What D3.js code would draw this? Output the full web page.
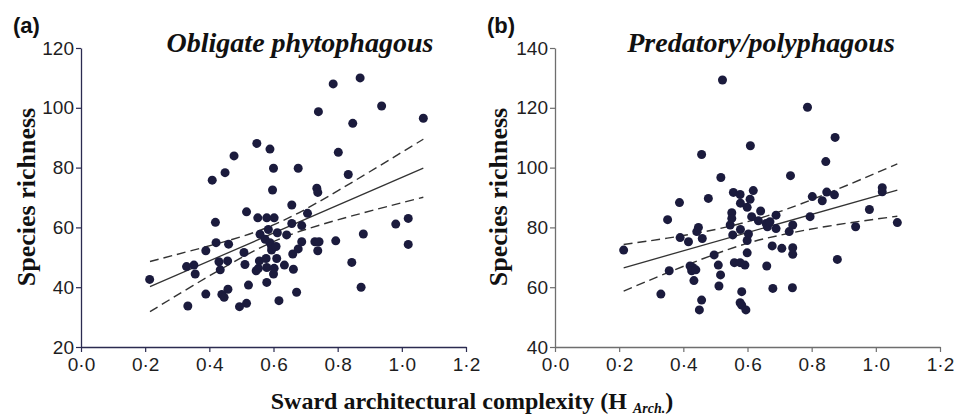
<!DOCTYPE html>
<html>
<head>
<meta charset="utf-8">
<script src="https://cdn.jsdelivr.net/npm/d3@7"></script>
<style>
  body { margin: 0; background: #fff; }
  svg { display: block; }
</style>
</head>
<body>
<div id="my_dataviz"></div>
<script>
// sward complexity vs species richness, two panels

const xTicks = [0, 0.2, 0.4, 0.6, 0.8, 1.0, 1.2];
const obligateTicks = [20, 40, 60, 80, 100, 120];
const predatoryTicks = [40, 60, 80, 100, 120, 140];

// (a) obligate phytophagous: [H_Arch, species richness]
const obligatePoints = [
  [0.214, 42.6], [0.329, 46.9], [0.352, 47.4], [0.356, 44.4], [0.333, 33.7],
  [0.389, 52.2], [0.389, 37.7], [0.409, 75.8], [0.419, 61.7], [0.421, 54.9],
  [0.430, 48.5], [0.434, 45.8], [0.439, 37.6], [0.446, 36.6], [0.449, 78.3],
  [0.457, 48.8], [0.458, 39.3], [0.460, 54.4], [0.477, 83.9], [0.494, 33.5],
  [0.508, 51.6], [0.511, 47.6], [0.516, 65.2], [0.516, 34.6], [0.522, 40.7],
  [0.546, 45.5], [0.548, 88.1], [0.551, 63.2], [0.553, 46.3], [0.556, 48.8],
  [0.558, 57.7], [0.574, 56.0], [0.577, 49.6], [0.579, 63.2], [0.579, 46.6],
  [0.579, 41.6], [0.584, 59.3], [0.589, 86.2], [0.589, 54.9], [0.594, 53.6],
  [0.594, 52.4], [0.597, 72.5], [0.600, 79.8], [0.600, 44.4], [0.602, 63.2],
  [0.602, 46.3], [0.608, 53.6], [0.610, 49.6], [0.612, 58.2], [0.617, 35.5],
  [0.634, 47.4], [0.641, 57.5], [0.657, 67.5], [0.657, 61.3], [0.660, 51.1],
  [0.662, 46.0], [0.672, 38.3], [0.677, 79.8], [0.677, 52.8], [0.688, 60.6],
  [0.688, 55.2], [0.706, 64.7], [0.729, 55.2], [0.735, 73.1], [0.738, 71.7],
  [0.738, 52.2], [0.740, 98.7], [0.742, 55.2], [0.786, 108.0], [0.794, 55.5],
  [0.802, 85.1], [0.833, 77.7], [0.844, 48.3], [0.847, 94.8], [0.870, 110.0],
  [0.873, 40.0], [0.880, 57.8], [0.937, 100.6], [0.981, 61.1], [1.020, 63.0],
  [1.020, 54.3], [1.067, 96.5]
];
const obligateFit = [[0.215, 40.2], [1.067, 79.8]];
const obligateBandX = [0.215, 0.35, 0.5, 0.607, 0.7, 0.85, 1.067];
const obligateUpper = [48.6, 52.4, 56.9, 61.2, 66.1, 75.4, 89.5];
const obligateLower = [31.8, 40.6, 49.9, 55.6, 59.3, 64.0, 70.1];

// (b) predatory/polyphagous
const predatoryPoints = [
  [0.214, 72.4], [0.330, 57.7], [0.351, 82.6], [0.356, 65.5], [0.388, 88.3],
  [0.390, 76.6], [0.416, 75.2], [0.421, 67.1], [0.429, 66.6], [0.426, 65.5],
  [0.439, 65.8], [0.433, 62.2], [0.442, 78.6], [0.447, 80.0], [0.450, 52.4],
  [0.457, 55.7], [0.457, 104.4], [0.459, 76.3], [0.478, 89.7], [0.496, 70.8],
  [0.509, 67.4], [0.511, 60.4], [0.516, 64.1], [0.517, 96.7], [0.522, 129.3],
  [0.546, 80.8], [0.551, 84.9], [0.551, 83.0], [0.554, 77.5], [0.556, 91.7],
  [0.559, 68.2], [0.577, 91.0], [0.577, 68.2], [0.577, 54.8], [0.578, 88.1],
  [0.578, 79.3], [0.582, 58.5], [0.582, 54.0], [0.592, 67.4], [0.595, 52.4],
  [0.599, 86.7], [0.599, 75.6], [0.599, 71.5], [0.603, 77.8], [0.608, 89.4],
  [0.609, 107.3], [0.613, 83.6], [0.618, 92.3], [0.634, 82.2], [0.641, 85.5],
  [0.658, 81.3], [0.660, 67.1], [0.662, 80.2], [0.670, 81.9], [0.677, 73.8],
  [0.679, 59.6], [0.689, 84.1], [0.689, 79.6], [0.707, 73.0], [0.730, 78.6],
  [0.734, 97.3], [0.740, 59.8], [0.741, 80.8], [0.741, 73.2], [0.741, 71.0],
  [0.787, 120.2], [0.795, 83.6], [0.802, 90.3], [0.833, 88.9], [0.844, 102.0],
  [0.847, 91.8], [0.871, 90.9], [0.873, 110.1], [0.880, 69.3], [0.937, 80.2],
  [0.980, 86.0], [1.020, 93.3], [1.020, 91.9], [1.067, 81.6]
];
const predatoryFit = [[0.214, 66.5], [1.067, 92.5]];
const predatoryBandX = [0.214, 0.35, 0.5, 0.61, 0.7, 0.85, 1.067];
const predatoryUpper = [74.3, 76.4, 79.3, 82.2, 85.25, 91.4, 101.25];
const predatoryLower = [58.7, 64.8, 71.1, 75.0, 77.35, 80.4, 83.75];

const W = 956, H = 420;
const plotTop = 48, plotBottom = 347;

const svg = d3.select("#my_dataviz")
  .append("svg")
  .attr("width", W)
  .attr("height", H);

const fmt = d => d.toFixed(1).replace(".", "\u00b7");

function panel(opts) {
  const x = d3.scaleLinear().domain([0, 1.2]).range(opts.xRange);
  const y = d3.scaleLinear().domain(opts.yDomain).range([plotBottom, plotTop]);
  const g = svg.append("g");

  // y axis
  const yAxis = g.append("g")
    .attr("transform", `translate(${opts.xRange[0]},0)`)
    .call(d3.axisLeft(y).tickValues(opts.yTicks).tickSize(5).tickPadding(2).tickSizeOuter(0));
  // x axis
  const xAxis = g.append("g")
    .attr("transform", `translate(0,${plotBottom})`)
    .call(d3.axisBottom(x).tickValues(xTicks).tickFormat(fmt).tickSize(5).tickPadding(6).tickSizeOuter(0));

  [yAxis, xAxis].forEach(a => {
    a.select(".domain").attr("stroke", opts.axisColor).attr("stroke-width", 1.3);
    a.selectAll(".tick line").attr("stroke", opts.axisColor).attr("stroke-width", 1.2);
    a.selectAll(".tick text")
      .attr("fill", "#1e1e1e")
      .style("font-family", "'Liberation Sans', Arial, sans-serif")
      .style("font-size", "19px");
  });

  // confidence bands + fit
  const band = d3.line()
    .x(d => x(d[0]))
    .y(d => y(d[1]))
    .curve(d3.curveNatural);
  [opts.upper, opts.lower].forEach(vals => {
    g.append("path")
      .datum(opts.bandX.map((v, i) => [v, vals[i]]))
      .attr("fill", "none")
      .attr("stroke", "#333")
      .attr("stroke-width", 1.4)
      .attr("stroke-dasharray", "9,5")
      .attr("d", band);
  });
  g.append("path")
    .datum(opts.fit)
    .attr("fill", "none")
    .attr("stroke", "#333")
    .attr("stroke-width", 1.3)
    .attr("d", d3.line().x(d => x(d[0])).y(d => y(d[1])));

  // dots
  g.append("g")
    .selectAll("circle")
    .data(opts.points)
    .enter().append("circle")
    .attr("cx", d => x(d[0]))
    .attr("cy", d => y(d[1]))
    .attr("r", 4.5)
    .attr("fill", "#1b1b3d");

  // panel letter
  g.append("text")
    .attr("x", opts.xRange[0] - 68)
    .attr("y", 33)
    .style("font-family", "'Liberation Sans', Arial, sans-serif")
    .style("font-size", "22px")
    .style("font-weight", "bold")
    .attr("fill", "#111")
    .text(opts.letter);

  // title
  g.append("text")
    .attr("x", opts.titleX)
    .attr("y", 52)
    .attr("text-anchor", "middle")
    .style("font-family", "'Liberation Serif', 'Times New Roman', serif")
    .style("font-size", "28px")
    .style("font-style", "italic")
    .style("font-weight", "bold")
    .attr("fill", "#111")
    .text(opts.title);

  // y label
  g.append("text")
    .attr("transform", `translate(${opts.yLabelX},197) rotate(-90)`)
    .attr("text-anchor", "middle")
    .style("font-family", "'Liberation Serif', 'Times New Roman', serif")
    .style("font-size", "26px")
    .style("font-weight", "bold")
    .attr("fill", "#111")
    .text("Species richness");
}

panel({
  xRange: [81, 466], yDomain: [20, 120], yTicks: obligateTicks,
  points: obligatePoints, fit: obligateFit,
  bandX: obligateBandX, upper: obligateUpper, lower: obligateLower,
  axisColor: "#2b2b50", letter: "(a)", title: "Obligate phytophagous",
  titleX: 300, yLabelX: 35
});

panel({
  xRange: [555, 940], yDomain: [40, 140], yTicks: predatoryTicks,
  points: predatoryPoints, fit: predatoryFit,
  bandX: predatoryBandX, upper: predatoryUpper, lower: predatoryLower,
  axisColor: "#6e6e6e", letter: "(b)", title: "Predatory/polyphagous",
  titleX: 761, yLabelX: 507
});

// shared x label
const xl = svg.append("text")
  .attr("x", 472)
  .attr("y", 409)
  .attr("text-anchor", "middle")
  .style("font-family", "'Liberation Serif', 'Times New Roman', serif")
  .style("font-size", "24px")
  .style("font-weight", "bold")
  .attr("fill", "#111");
xl.append("tspan").text("Sward architectural complexity (H ");
xl.append("tspan")
  .attr("dy", 4)
  .style("font-size", "14px")
  .style("font-style", "italic")
  .text("Arch.");
xl.append("tspan").attr("dy", -4).text(")");
</script>
</body>
</html>
